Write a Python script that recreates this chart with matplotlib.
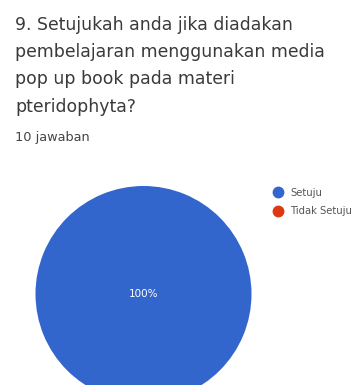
import matplotlib.pyplot as plt
from matplotlib.lines import Line2D

# data
labels = ["Setuju", "Tidak Setuju"]
jawaban = [10, 0]
warna = ["#3366CC", "#DC3912"]

title = "9. Setujukah anda jika diadakan\npembelajaran menggunakan media\npop up book pada materi\npteridophyta?"

W, H = 354, 385
fig = plt.figure(figsize=(W/100, H/100), dpi=100)
fig.patch.set_facecolor("white")

fig.text(15/W, 1-16/H, title, fontsize=12.4, color="#3a3a3a",
         va="top", ha="left", linespacing=1.66)
fig.text(15/W, 1-138/H, f"{sum(jawaban)} jawaban", fontsize=9.3,
         color="#444444", va="center", ha="left")

# pie
cx, cy, r = 143.5, 294, 108
ax = fig.add_axes([(cx-r)/W, (H-cy-r)/H, 2*r/W, 2*r/H])
ax.pie(jawaban, colors=warna, startangle=90, counterclock=False,
       autopct=lambda p: f"{p:.0f}%" if p > 0 else "", pctdistance=0.0,
       textprops=dict(color="white", fontsize=7.5))
ax.set_xlim(-1, 1)
ax.set_ylim(-1, 1)
ax.set_aspect("equal")
ax.axis("off")

handles = [Line2D([], [], marker="o", linestyle="", markersize=7.5,
                  markerfacecolor=c, markeredgecolor=c) for c in warna]
leg = fig.legend(handles, labels, loc="upper left",
                 bbox_to_anchor=(273/W, 1-188/H), frameon=False,
                 fontsize=7.2, handletextpad=0.72, labelspacing=0.85,
                 handlelength=1.0, borderaxespad=0, borderpad=0)
for t in leg.get_texts():
    t.set_color("#555555")

plt.savefig("out.png", dpi=100)
